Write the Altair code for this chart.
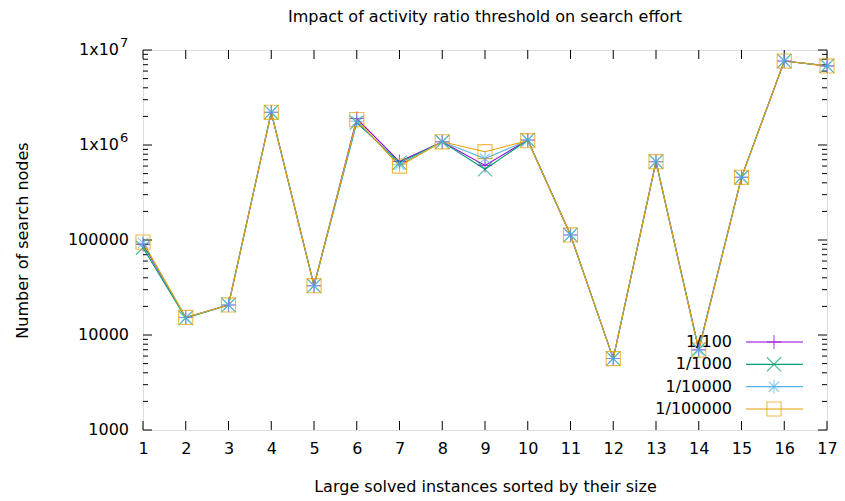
import altair as alt
import pandas as pd

# ---- data ----
instances = list(range(1, 18))
series = ["1/100", "1/1000", "1/10000", "1/100000"]
s_100 = [90000, 15300, 20700, 2210000, 33000, 1900000, 670000, 1080000, 610000, 1130000, 113000, 5650, 667000, 7000, 457000, 7650000, 6800000]
s_1000 = [83000, 15100, 20700, 2210000, 33000, 1720000, 650000, 1080000, 555000, 1130000, 113000, 5650, 667000, 7100, 457000, 7650000, 6800000]
s_10000 = [93000, 15300, 20700, 2210000, 33000, 1780000, 620000, 1080000, 720000, 1120000, 113000, 5650, 667000, 6900, 457000, 7650000, 6800000]
s_100000 = [95000, 15300, 20700, 2210000, 33000, 1850000, 600000, 1080000, 850000, 1110000, 113000, 5650, 667000, 6950, 457000, 7650000, 6800000]
y_plain = [1000, 10000, 100000]
y_plain_labels = ["1000", "10000", "100000"]
y_pow = [1000000, 10000000]
y_pow_mant = ["1x10", "1x10"]
y_pow_exp = ["6", "7"]
chart_title = "Impact of activity ratio threshold on search effort"

colors = ["#9400d3", "#009e73", "#56b4e9", "#e69f00"]
shapes = [
    "M-1,0H1M0,-1V1",
    "M-1,-1L1,1M-1,1L1,-1",
    "M-1,0H1M0,-1V1M-0.72,-0.72L0.72,0.72M-0.72,0.72L0.72,-0.72",
    "M-1,-1H1V1H-1Z",
]

rows = []
for name, vals in zip(series, [s_100, s_1000, s_10000, s_100000]):
    for xi, v in zip(instances, vals):
        rows.append({"x": xi, "v": v, "series": name})
df = pd.DataFrame(rows)

y_major = y_plain + y_pow
y_minor = [k * 10 ** d for d in range(3, 7) for k in range(2, 10)]
xt = pd.DataFrame({"x": instances})
ymaj = pd.DataFrame({"v": y_major})
ymin = pd.DataFrame({"v": y_minor})
yplain_df = pd.DataFrame({"v": y_plain, "lab": y_plain_labels})
ypow_df = pd.DataFrame({"v": y_pow, "mant": y_pow_mant, "exp": y_pow_exp})
leg = pd.DataFrame({"series": series, "idx": list(range(len(series)))})
ttl = pd.DataFrame({"t": [chart_title]})

W, H = 684, 380
FONT = "DejaVu Sans"

xscale = alt.Scale(domain=[1, 17], nice=False, zero=False)
yscale = alt.Scale(type="log", domain=[1000, 10000000], nice=False)
cscale = alt.Scale(domain=series, range=colors)
sscale = alt.Scale(domain=series, range=shapes)

base = alt.Chart(df)
lines = base.mark_line(strokeWidth=1.1).encode(
    x=alt.X("x:Q", scale=xscale,
            axis=alt.Axis(values=instances, format="d", tickSize=0, labelPadding=10, domain=False, grid=False,
                          labelFlush=False,
                          title="Large solved instances sorted by their size", titleFontWeight="normal",
                          titleX=W / 2, titleY=48, titleFontSize=16, labelFontSize=16, labelFont=FONT, titleFont=FONT,
                          labelColor="black", titleColor="black")),
    y=alt.Y("v:Q", scale=yscale,
            axis=alt.Axis(values=y_major, labels=False, ticks=False, domain=False, grid=False,
                          title="Number of search nodes", titleFontWeight="normal", titleX=-121, titleY=H / 2,
                          titleAngle=-90, titleAlign="center", titleBaseline="middle",
                          titleFontSize=16, titleFont=FONT, titleColor="black")),
    color=alt.Color("series:N", scale=cscale, legend=None),
    detail="series:N",
)
points = base.mark_point(filled=False, size=200, strokeWidth=1.1).encode(
    x=alt.X("x:Q", scale=xscale),
    y=alt.Y("v:Q", scale=yscale, axis=None),
    color=alt.Color("series:N", scale=cscale, legend=None),
    shape=alt.Shape("series:N", scale=sscale, legend=None),
)

tick_style = dict(color="black", strokeWidth=1)
xt_bot = alt.Chart(xt).mark_rule(**tick_style).encode(x=alt.X("x:Q", scale=xscale), y=alt.value(H), y2=alt.value(H - 9))
xt_top = alt.Chart(xt).mark_rule(**tick_style).encode(x=alt.X("x:Q", scale=xscale), y=alt.value(0), y2=alt.value(9))
ymaj_l = alt.Chart(ymaj).mark_rule(**tick_style).encode(y=alt.Y("v:Q", scale=yscale, axis=None), x=alt.value(0), x2=alt.value(9))
ymaj_r = alt.Chart(ymaj).mark_rule(**tick_style).encode(y=alt.Y("v:Q", scale=yscale, axis=None), x=alt.value(W), x2=alt.value(W - 9))
ymin_l = alt.Chart(ymin).mark_rule(**tick_style).encode(y=alt.Y("v:Q", scale=yscale, axis=None), x=alt.value(0), x2=alt.value(5))
ymin_r = alt.Chart(ymin).mark_rule(**tick_style).encode(y=alt.Y("v:Q", scale=yscale, axis=None), x=alt.value(W), x2=alt.value(W - 5))

ylab_plain = alt.Chart(yplain_df).mark_text(align="right", baseline="middle", fontSize=16, font=FONT, color="black").encode(
    y=alt.Y("v:Q", scale=yscale, axis=None), x=alt.value(-14), text="lab:N")
ylab_mant = alt.Chart(ypow_df).mark_text(align="right", baseline="middle", fontSize=16, font=FONT, color="black").encode(
    y=alt.Y("v:Q", scale=yscale, axis=None), x=alt.value(-24), text="mant:N")
ylab_exp = alt.Chart(ypow_df).mark_text(align="left", baseline="middle", fontSize=13, font=FONT, color="black", dy=-7).encode(
    y=alt.Y("v:Q", scale=yscale, axis=None), x=alt.value(-23), text="exp:N")

lscale = alt.Scale(domain=[0, 3], range=[292, 359], nice=False, zero=False)
leg_text = alt.Chart(leg).mark_text(align="right", baseline="middle", fontSize=16, font=FONT, color="black").encode(
    y=alt.Y("idx:Q", scale=lscale, axis=None), x=alt.value(589), text="series:N")
leg_line = alt.Chart(leg).mark_rule(strokeWidth=1.1).encode(
    y=alt.Y("idx:Q", scale=lscale, axis=None), x=alt.value(603), x2=alt.value(660),
    color=alt.Color("series:N", scale=cscale, legend=None))
leg_pt = alt.Chart(leg).mark_point(filled=False, size=200, strokeWidth=1.1).encode(
    y=alt.Y("idx:Q", scale=lscale, axis=None), x=alt.value(631),
    color=alt.Color("series:N", scale=cscale, legend=None),
    shape=alt.Shape("series:N", scale=sscale, legend=None))

title_mark = alt.Chart(ttl).mark_text(align="center", baseline="middle", fontSize=16, font=FONT, color="black").encode(
    x=alt.value(W / 2), y=alt.value(-33), text="t:N")

chart = alt.layer(
    xt_bot, xt_top, ymaj_l, ymaj_r, ymin_l, ymin_r,
    lines, points, ylab_plain, ylab_mant, ylab_exp,
    leg_text, leg_line, leg_pt, title_mark,
).resolve_scale(y="independent").properties(
    width=W, height=H,
    autosize=alt.AutoSizeParams(type="none"),
    padding={"left": 135, "top": 42, "right": 10, "bottom": 70},
).configure_view(stroke="black", strokeWidth=1.2).configure(background="white")

chart.save("out.html", embed_options={"renderer": "svg", "actions": False})
